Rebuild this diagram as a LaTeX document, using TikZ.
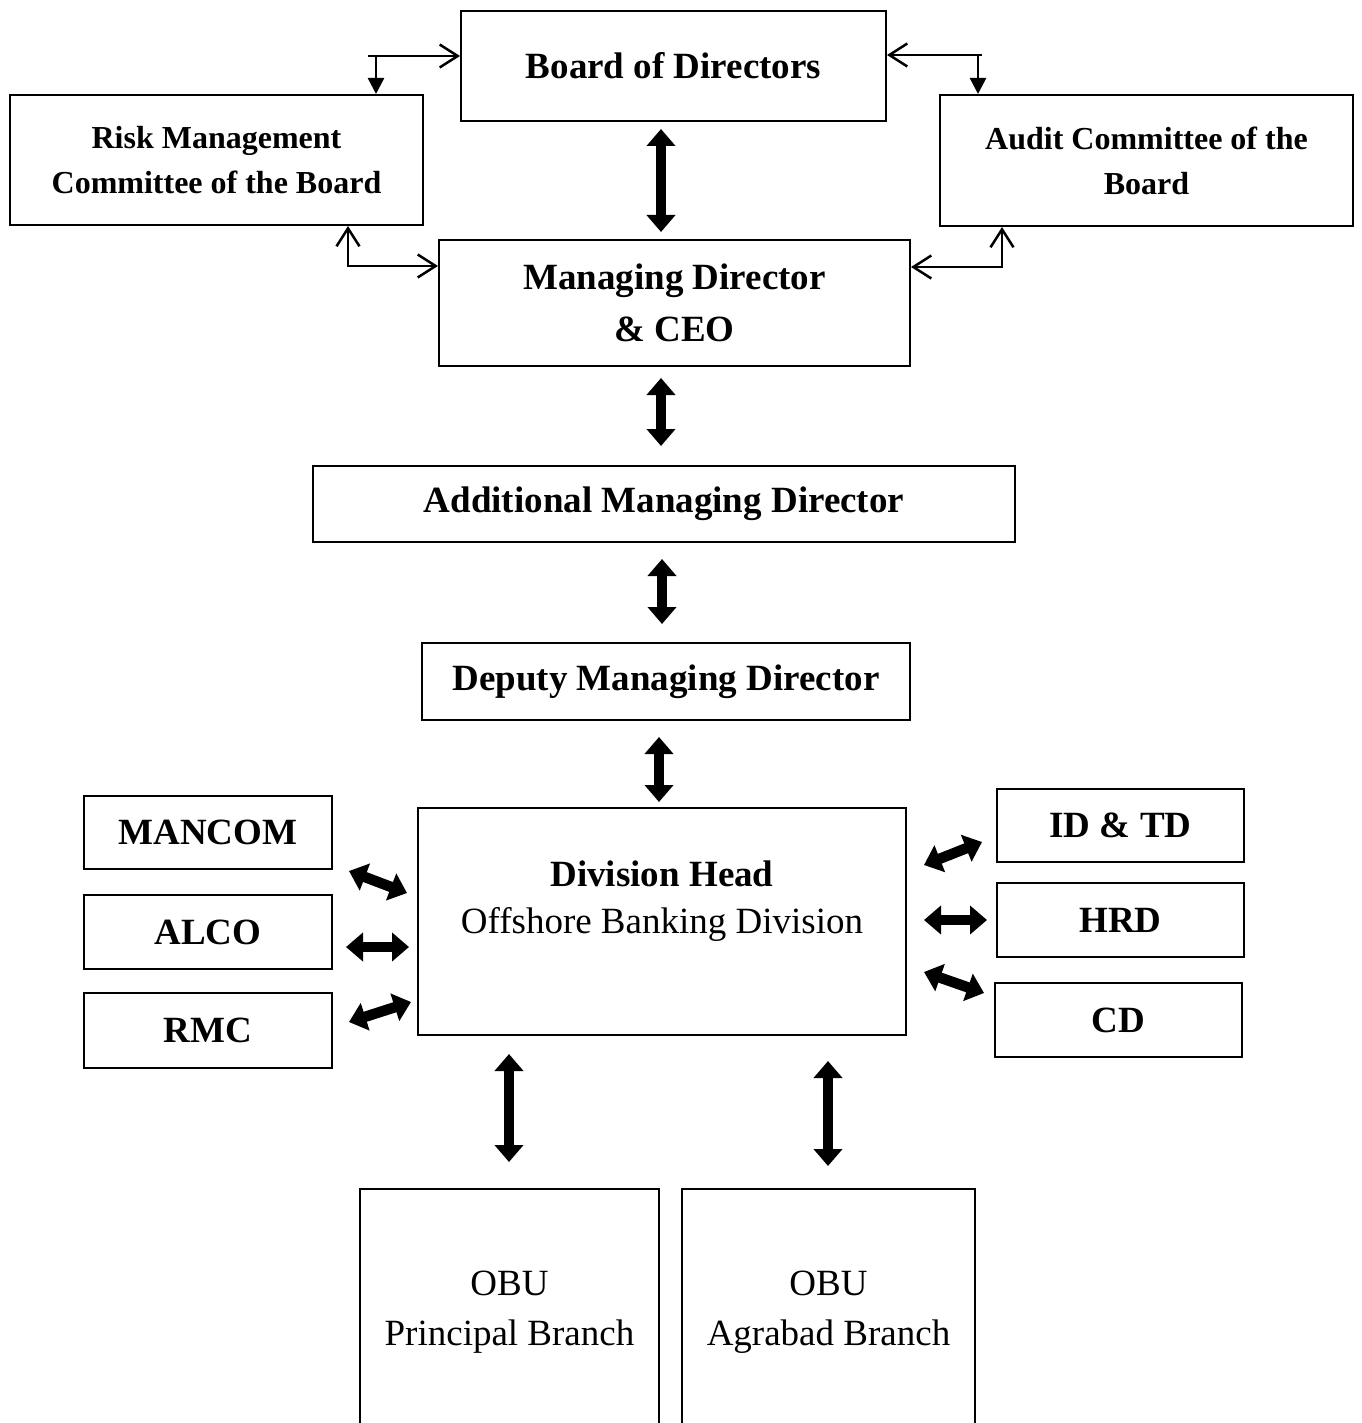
\documentclass[tikz,border=0pt]{standalone}
\usepackage{fontspec}
\setmainfont{Liberation Serif}
\usetikzlibrary{arrows.meta}
\begin{document}
\begin{tikzpicture}[x=1pt,y=-1pt,
  box/.style={draw, line width=2pt, inner sep=0pt, align=center},
  big/.style={font=\fontsize{37}{47}\selectfont\bfseries},
  bigreg/.style={font=\fontsize{37}{50}\selectfont},
  small/.style={font=\fontsize{32}{45}\selectfont\bfseries},
  conn/.style={line width=2.5pt},
  barb/.tip={Straight Barb[length=18pt,width=23pt]},
  tri/.tip={Triangle[length=16pt,width=16pt]},
  bigarr/.style={line width=10.5pt,
    {Triangle[length=17pt,width=28pt]}-{Triangle[length=17pt,width=28pt]}},
]
\useasboundingbox (0,0) rectangle (1361,1423);

% top level boxes
\node[box, big, minimum width=425pt, minimum height=110pt] (bod) at (673.5,66) {Board of Directors};
\node[box, small, minimum width=413pt, minimum height=130pt] (risk) at (216.5,160) {Risk Management\\Committee of the Board};
\node[box, small, minimum width=413pt, minimum height=131pt] (audit) at (1146.5,160.5) {Audit Committee of the\\Board};
\node[box, font=\fontsize{37}{52}\selectfont\bfseries, minimum width=471pt, minimum height=126pt] (mdceo) at (674.5,303) {Managing Director\\\& CEO};
\node[box, big, minimum width=702pt, minimum height=76pt] (amd) at (664,504) {Additional Managing Director};
\node[box, big, minimum width=488pt, minimum height=77pt] (dmd) at (666,681.5) {Deputy Managing Director};

% division
\node[box, minimum width=488pt, minimum height=227pt] (dh) at (662,921.5) {};
\node[align=center, font=\fontsize{37}{47}\selectfont] (dhtext) at (662,901) {\textbf{Division Head}\\Offshore Banking Division};

% committees on the left
\node[box, big, minimum width=248pt, minimum height=73pt] (mancom) at (208,832.5) {MANCOM};
\node[box, big, minimum width=248pt, minimum height=74pt] (alco) at (208,932) {ALCO};
\node[box, big, minimum width=248pt, minimum height=75pt] (rmc) at (208,1030.5) {RMC};

% departments on the right
\node[box, big, minimum width=247pt, minimum height=73pt] (idtd) at (1120.5,825.5) {ID \& TD};
\node[box, big, minimum width=247pt, minimum height=74pt] (hrd) at (1120.5,920) {HRD};
\node[box, big, minimum width=247pt, minimum height=74pt] (cd) at (1118.5,1020) {CD};

% branches (boxes run past the lower edge)
\node[box, bigreg, minimum width=299pt, minimum height=246pt] (obup) at (509.5,1312) {OBU\\Principal Branch};
\node[box, bigreg, minimum width=293pt, minimum height=246pt] (obua) at (828.5,1312) {OBU\\Agrabad Branch};

% board committee links
\coordinate (tl) at (376,56);
\coordinate (tr) at (978,55);
\coordinate (bl) at (348,266);
\coordinate (br) at (1002,267);
\draw[conn, -barb] ([xshift=-8pt]tl) -- (tl -| bod.west);
\draw[conn, -tri] (tl) -- (tl |- risk.north);
\draw[conn, -barb] ([xshift=4pt]tr) -- (tr -| bod.east);
\draw[conn, -tri] (tr) -- (tr |- audit.north);
\draw[conn, barb-barb] (bl |- risk.south) -- (bl) -- (bl -| mdceo.west);
\draw[conn, barb-barb] (br |- audit.south) -- (br) -- (br -| mdceo.east);

% main chain
\draw[bigarr] ([shift={(-12.5,7)}]bod.south) -- ([shift={(-13.5,-7)}]mdceo.north);
\draw[bigarr] ([shift={(-13.5,11)}]mdceo.south) -- ([shift={(-3,-19)}]amd.north);
\draw[bigarr] ([shift={(-2,16)}]amd.south) -- ([shift={(-4,-18)}]dmd.north);
\draw[bigarr] ([shift={(-7,16)}]dmd.south) -- ([shift={(-3,-5)}]dh.north);

% side links
\draw[bigarr] ([shift={(16,1)}]mancom.south east) -- ([shift={(-10,-28.5)}]dh.west);
\draw[bigarr] ([shift={(13,15)}]alco.east) -- ([shift={(-8,25.5)}]dh.west);
\draw[bigarr] ([shift={(16,-8.5)}]rmc.east) -- ([shift={(-6,80.5)}]dh.west);
\draw[bigarr] ([shift={(17,-56.5)}]dh.east) -- ([shift={(-14,16.5)}]idtd.west);
\draw[bigarr] ([shift={(17,-1.5)}]dh.east) -- ([shift={(-9,0)}]hrd.west);
\draw[bigarr] ([shift={(17,50.5)}]dh.east) -- ([shift={(-10,-27)}]cd.west);

% branch links
\draw[bigarr] ([shift={(-153,18)}]dh.south) -- ([shift={(-0.5,-26)}]obup.north);
\draw[bigarr] ([shift={(166,25)}]dh.south) -- ([shift={(-0.5,-22)}]obua.north);
\end{tikzpicture}
\end{document}
